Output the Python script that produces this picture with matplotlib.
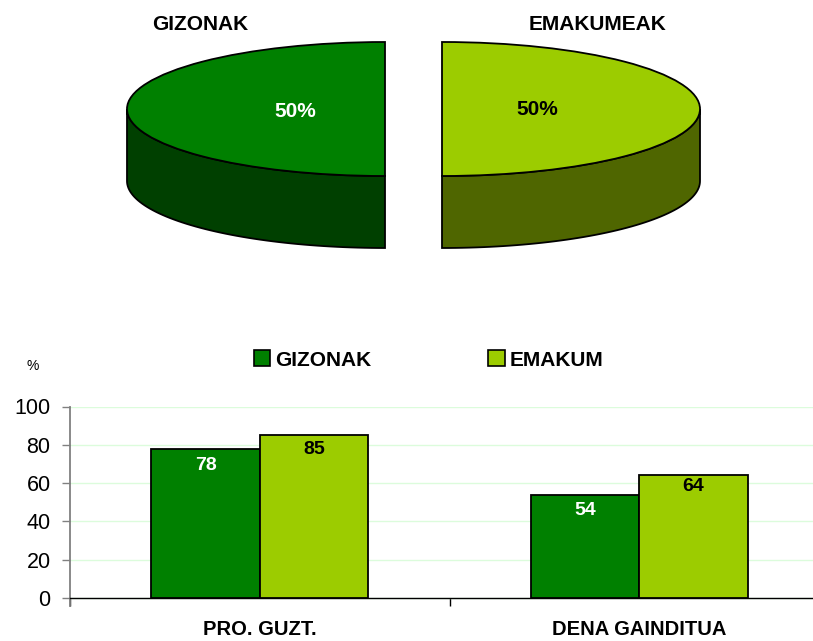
import numpy as np
import matplotlib
matplotlib.use("Agg")
import matplotlib.pyplot as plt
from matplotlib.patches import Patch

# values
pie_labels = ['GIZONAK', 'EMAKUMEAK']
pie_values = [50, 50]
categories = ['PRO. GUZT.', 'DENA GAINDITUA']
gizonak = [78, 54]
emakum = [85, 64]
y_ticks = [0, 20, 40, 60, 80, 100]

GREEN = '#008000'
LIME = '#9ccc00'
GREEN_DARK = '#004000'
LIME_DARK = '#4f6600'
W, H = 813, 641

plt.rcParams['font.family'] = ['Liberation Sans', 'DejaVu Sans']


def px_box(left, right, top, bottom):
    # pixel box (y from top) to figure fractions
    return [left / W, 1 - bottom / H, (right - left) / W, (bottom - top) / H]


fig = plt.figure(figsize=(W / 100, H / 100), dpi=100)

# 3D looking pie, one unit = 258 px across and 67 px down
ax_pie = fig.add_axes(px_box(127, 700, 42, 248))
gap = 28.5 / 258
depth = 72 / 67
wedges, _, pct_texts = ax_pie.pie(
    pie_values, colors=[LIME, GREEN], startangle=-90, explode=[gap, gap],
    autopct='%d%%', pctdistance=0.37,
    wedgeprops={'edgecolor': 'black', 'linewidth': 1.3, 'zorder': 3},
    textprops={'fontsize': 15, 'fontweight': 'bold'})
pct_texts[0].set_color('black')
pct_texts[1].set_color('white')
pct_texts[1].set_zorder(5)
pct_texts[0].set_zorder(5)
pct_texts[1].set_position((pct_texts[1].get_position()[0] + 5.5 / 258,
                           pct_texts[1].get_position()[1] - 2 / 67))

ax_pie.set_aspect('auto')
ax_pie.set_xlim(-286.5 / 258, 286.5 / 258)
ax_pie.set_ylim(1 - 206 / 67, 1)
ax_pie.axis('off')

# side walls of the two slices
for start, end, shift, color in [(180, 270, -gap, GREEN_DARK), (270, 360, gap, LIME_DARK)]:
    t = np.radians(np.linspace(start, end, 60))
    xs = np.cos(t) + shift
    ys = np.sin(t)
    poly_x = np.concatenate([xs, xs[::-1]])
    poly_y = np.concatenate([ys, ys[::-1] - depth])
    ax_pie.fill(poly_x, poly_y, facecolor=color, edgecolor='black', linewidth=1.3,
                zorder=2, clip_on=False)

fig.text(200.5 / W, 1 - 24 / H, pie_labels[0], fontsize=15, fontweight='bold',
         ha='center', va='center')
fig.text(597.5 / W, 1 - 24 / H, pie_labels[1], fontsize=15, fontweight='bold',
         ha='center', va='center')

# bar chart, runs past the right edge of the figure
ax = fig.add_axes(px_box(70, 829, 406.5, 606))
ax.patch.set_alpha(0)
x = np.arange(len(categories))
width = 108.5 / 379.5
bars1 = ax.bar(x - width / 2, gizonak, width, color=GREEN, edgecolor='black', linewidth=1.3, zorder=3)
bars2 = ax.bar(x + width / 2, emakum, width, color=LIME, edgecolor='black', linewidth=1.3, zorder=3)

for bars, color, offsets in [(bars1, 'white', (-12.5, -11.5)), (bars2, 'black', (-10, -8))]:
    for bar, off in zip(bars, offsets):
        ax.annotate(str(int(bar.get_height())),
                    (bar.get_x() + bar.get_width() / 2, bar.get_height()),
                    xytext=(0, off), textcoords='offset points',
                    ha='center', va='center', color=color,
                    fontsize=14, fontweight='bold', zorder=4)

ax.set_xlim(-0.5, 1.5)
ax.set_ylim(-8 / 1.915, 100)
ax.set_yticks(y_ticks)
ax.tick_params(axis='y', labelsize=15.5, length=6, width=1, color='#808080', pad=8)
ax.grid(axis='y', color='#dcfcdc', linewidth=1, zorder=0)
ax.set_axisbelow(True)

# boundary marks on the axis, category names as text so the bold survives
ax.set_xticks([-0.5, 0.5, 1.5])
ax.set_xticklabels([])
ax.tick_params(axis='x', length=6, width=1, color='black')
for pos, name in zip(x, categories):
    ax.annotate(name, (pos, 0), xycoords=('data', 'axes fraction'),
                xytext=(0, -17), textcoords='offset points',
                ha='center', va='center', fontsize=14.5, fontweight='bold',
                annotation_clip=False)

ax.spines['top'].set_visible(False)
ax.spines['right'].set_visible(False)
ax.spines['left'].set_color('#808080')
ax.spines['left'].set_linewidth(1.3)
ax.spines['bottom'].set_position(('data', 0))
ax.spines['bottom'].set_linewidth(1)

# y=0 gets a black tick, drawn to join the axis line
ax.get_yticklines()[0].set_color('black')

fig.text(33 / W, 1 - 366 / H, '%', fontsize=10, ha='center', va='center')

handles = [Patch(facecolor=GREEN, edgecolor='black', linewidth=1.2),
           Patch(facecolor=LIME, edgecolor='black', linewidth=1.2)]
fig.legend(handles, ['GIZONAK', 'EMAKUM'], ncols=2, frameon=False,
           loc='center left', bbox_to_anchor=(254 / W, 1 - 360 / H),
           prop={'size': 15, 'weight': 'bold'}, borderpad=0, borderaxespad=0,
           handlelength=0.78, handleheight=0.78, handletextpad=0.25, columnspacing=5.6)

fig.savefig('out.png', dpi=100)
